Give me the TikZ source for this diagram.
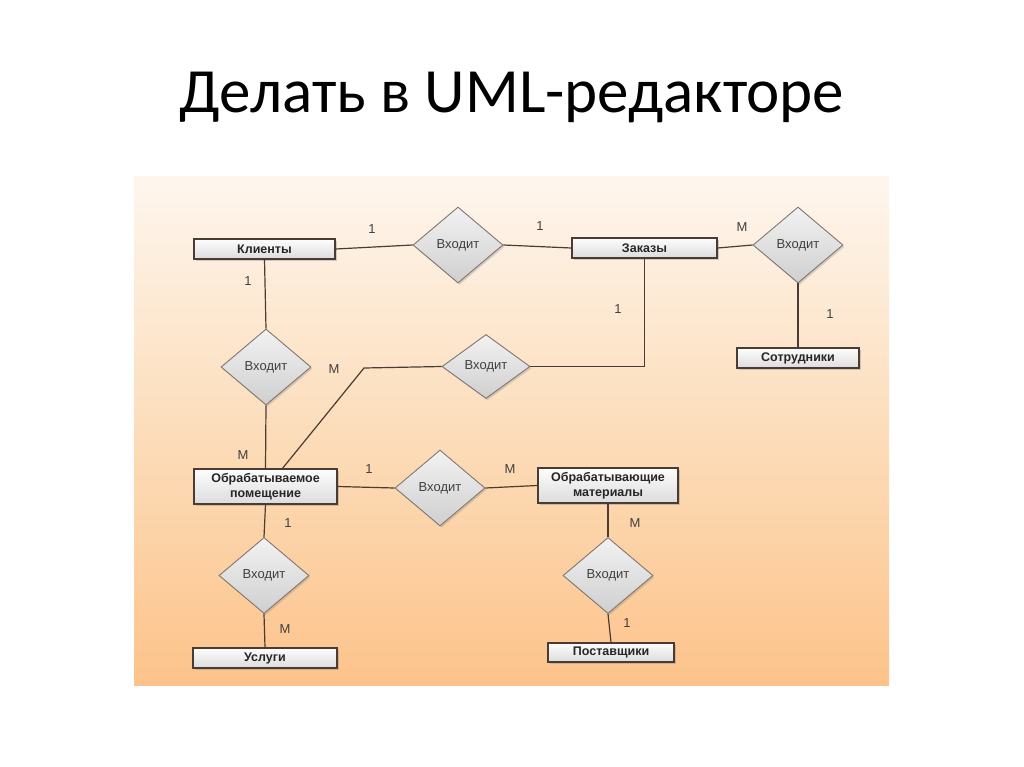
\documentclass[tikz,border=0pt]{standalone}
\usepackage{fontspec}
\setmainfont{Liberation Sans}
\newfontfamily\titlefont{Carlito}
\usetikzlibrary{shapes.geometric,shadows}
\definecolor{edgec}{HTML}{4A3C32}
\definecolor{bgtop}{HTML}{FEF6EE}
\definecolor{bgmid}{HTML}{FCDDBA}
\definecolor{bgbot}{HTML}{FDC38B}
\definecolor{boxtop}{HTML}{FDFDFD}
\definecolor{boxbot}{HTML}{DCDCDE}
\definecolor{dtop}{HTML}{F2F2F2}
\definecolor{dbot}{HTML}{CFCFCF}
\tikzset{
  ent/.style={draw=edgec, line width=1.3pt, top color=boxtop, bottom color=boxbot,
    inner sep=0pt, align=center, font=\fontsize{12.5}{15}\selectfont\bfseries,
    text=black!85, drop shadow={opacity=0.35, shadow xshift=1.5pt, shadow yshift=-1.8pt}},
  rel/.style={diamond, draw=edgec!70, line width=0.9pt, top color=dtop, bottom color=dbot,
    inner sep=0pt, minimum width=90pt, minimum height=76pt,
    font=\fontsize{13}{15}\selectfont, text=black!75,
    drop shadow={opacity=0.3, shadow xshift=1.5pt, shadow yshift=-1.8pt}},
  conn/.style={draw=edgec, line width=1.2pt},
  card/.style={font=\fontsize{13}{15}\selectfont, text=black!75, inner sep=0pt}
}
\begin{document}
\begin{tikzpicture}[x=1pt,y=-1pt]
\useasboundingbox (0,0) rectangle (1024,767);
\fill[white] (0,0) rectangle (1024,767);
% title
\node[anchor=base, inner sep=0pt, font=\titlefont\fontsize{63}{66}\selectfont] (title) at (512,113) {Делать в UML-редакторе};
% background panel
\shade[top color=bgtop, bottom color=bgbot, middle color=bgmid] (134,177) rectangle (889,685);
% entities
\node[ent, minimum width=141pt, minimum height=20pt] (kl) at (264.5,249) {Клиенты};
\node[ent, minimum width=145pt, minimum height=20pt] (zak) at (644.5,248) {Заказы};
\node[ent, minimum width=122pt, minimum height=20pt] (sotr) at (798,358) {Сотрудники};
\node[ent, minimum width=143pt, minimum height=35pt] (pom) at (265.5,486.5) {Обрабатываемое\\помещение};
\node[ent, minimum width=140pt, minimum height=35pt] (mat) at (608,485.5) {Обрабатывающие\\материалы};
\node[ent, minimum width=144pt, minimum height=20pt] (usl) at (265,658) {Услуги};
\node[ent, minimum width=126pt, minimum height=19pt] (post) at (611,652.5) {Поставщики};
% relationships
\node[rel] (d1) at (458,245) {Входит};
\node[rel] (d2) at (798,245) {Входит};
\node[rel] (d3) at (266,367) {Входит};
\node[rel, minimum width=88pt, minimum height=64pt] (d4) at (486,366.5) {Входит};
\node[rel] (d5) at (440,488) {Входит};
\node[rel] (d6) at (264,575.5) {Входит};
\node[rel] (d7) at (608,575.5) {Входит};
\coordinate (bend) at (364,368);
\coordinate (pomtop) at (282,469);
% connectors
\draw[conn] (kl.east) -- (d1.west);
\draw[conn] (d1.east) -- (zak.west);
\draw[conn] (zak.east) -- (d2.west);
\draw[conn] (d2.south) -- (sotr.north);
\draw[conn] (kl.south) -- (d3.north);
\draw[conn] (d3.south) -- (pom.north);
\draw[conn] (zak.south) |- (d4.east);
\draw[conn] (d4.west) -- (bend) -- (pomtop);
\draw[conn] (pom.east) -- (d5.west);
\draw[conn] (d5.east) -- (mat.west);
\draw[conn] (pom.south) -- (d6.north);
\draw[conn] (d6.south) -- (usl.north);
\draw[conn] (mat.south) -- (d7.north);
\draw[conn] (d7.south) -- (post.north);
% cardinalities
\node[card] (c1) at (372,229) {1};
\node[card] (c2) at (540,226) {1};
\node[card] (c3) at (742,227) {M};
\node[card] (c4) at (830,314) {1};
\node[card] (c5) at (618,309) {1};
\node[card] (c6) at (248,281) {1};
\node[card] (c7) at (334,369) {M};
\node[card] (c8) at (243,455) {M};
\node[card] (c9) at (369,469) {1};
\node[card] (c10) at (510,469) {M};
\node[card] (c11) at (288,523) {1};
\node[card] (c12) at (635,523) {M};
\node[card] (c13) at (285,629) {M};
\node[card] (c14) at (627,623) {1};
\end{tikzpicture}
\end{document}
